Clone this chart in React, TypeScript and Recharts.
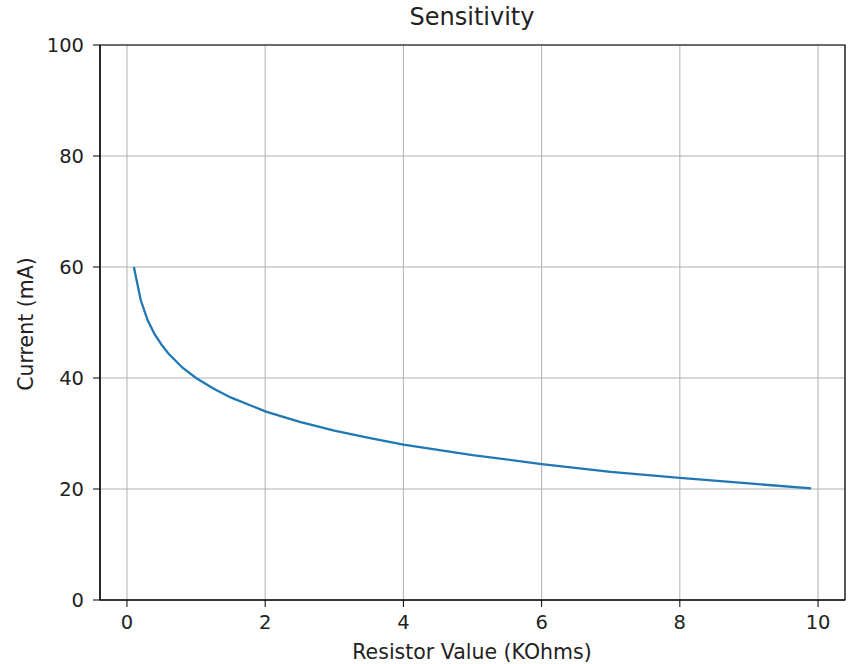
import React from 'react';
import { LineChart, Line, XAxis, YAxis, CartesianGrid, ReferenceArea } from 'recharts';

const resistance = [0.1, 0.2, 0.3, 0.4, 0.5, 0.6, 0.8, 1.0, 1.25, 1.5, 2, 2.5, 3, 3.5, 4, 5, 6, 7, 8, 9, 9.9];
const current = [60, 54, 50.4, 47.9, 46, 44.4, 41.9, 40, 38.1, 36.5, 34, 32.1, 30.5, 29.2, 28, 26.1, 24.5, 23.1, 22, 21, 20.1];
const xTicks = [0, 2, 4, 6, 8, 10];
const yTicks = [0, 20, 40, 60, 80, 100];

const data = resistance.map((r, i) => ({ r, i: current[i] }));

const font = 'DejaVu Sans, sans-serif';
const tickStyle = { fontSize: 19.5, fill: '#222', fontFamily: font };

export default function App() {
  return (
    <div style={{ position: 'absolute', left: 0, top: 0, width: 848, height: 664, background: '#fff' }}>
      <svg width={848} height={664} style={{ position: 'absolute', left: 0, top: 0, pointerEvents: 'none' }}>
        <text x={472} y={25} textAnchor="middle" fontSize={24} fontFamily={font} fill="#222">Sensitivity</text>
        <text x={472} y={659} textAnchor="middle" fontSize={20.5} fontFamily={font} fill="#222">Resistor Value (KOhms)</text>
        <text x={33} y={324} textAnchor="middle" fontSize={20.5} fontFamily={font} fill="#222" transform="rotate(-90 33 324)">Current (mA)</text>
      </svg>
      <LineChart width={848} height={664} data={data} margin={{ top: 45, right: 3, left: 40, bottom: 34 }}>
        <CartesianGrid stroke="#b0b0b0" strokeWidth={1} />
        <XAxis dataKey="r" type="number" domain={[-0.39, 10.39]} ticks={xTicks} allowDataOverflow
          height={30} tickSize={7} tickLine={{ stroke: '#000' }} axisLine={{ stroke: '#000' }}
          tick={tickStyle} tickMargin={8} />
        <YAxis type="number" domain={[0, 100]} ticks={yTicks} width={60} allowDataOverflow
          tickSize={7} tickLine={{ stroke: '#000' }} axisLine={{ stroke: '#000' }}
          tick={tickStyle} tickMargin={9} />
        <ReferenceArea x1={-0.39} x2={10.39} y1={0} y2={100} fill="none" stroke="#000" strokeWidth={1.2} ifOverflow="visible" />
        <Line type="linear" dataKey="i" stroke="#1f77b4" strokeWidth={2.3} dot={false} isAnimationActive={false} />
      </LineChart>
    </div>
  );
}
